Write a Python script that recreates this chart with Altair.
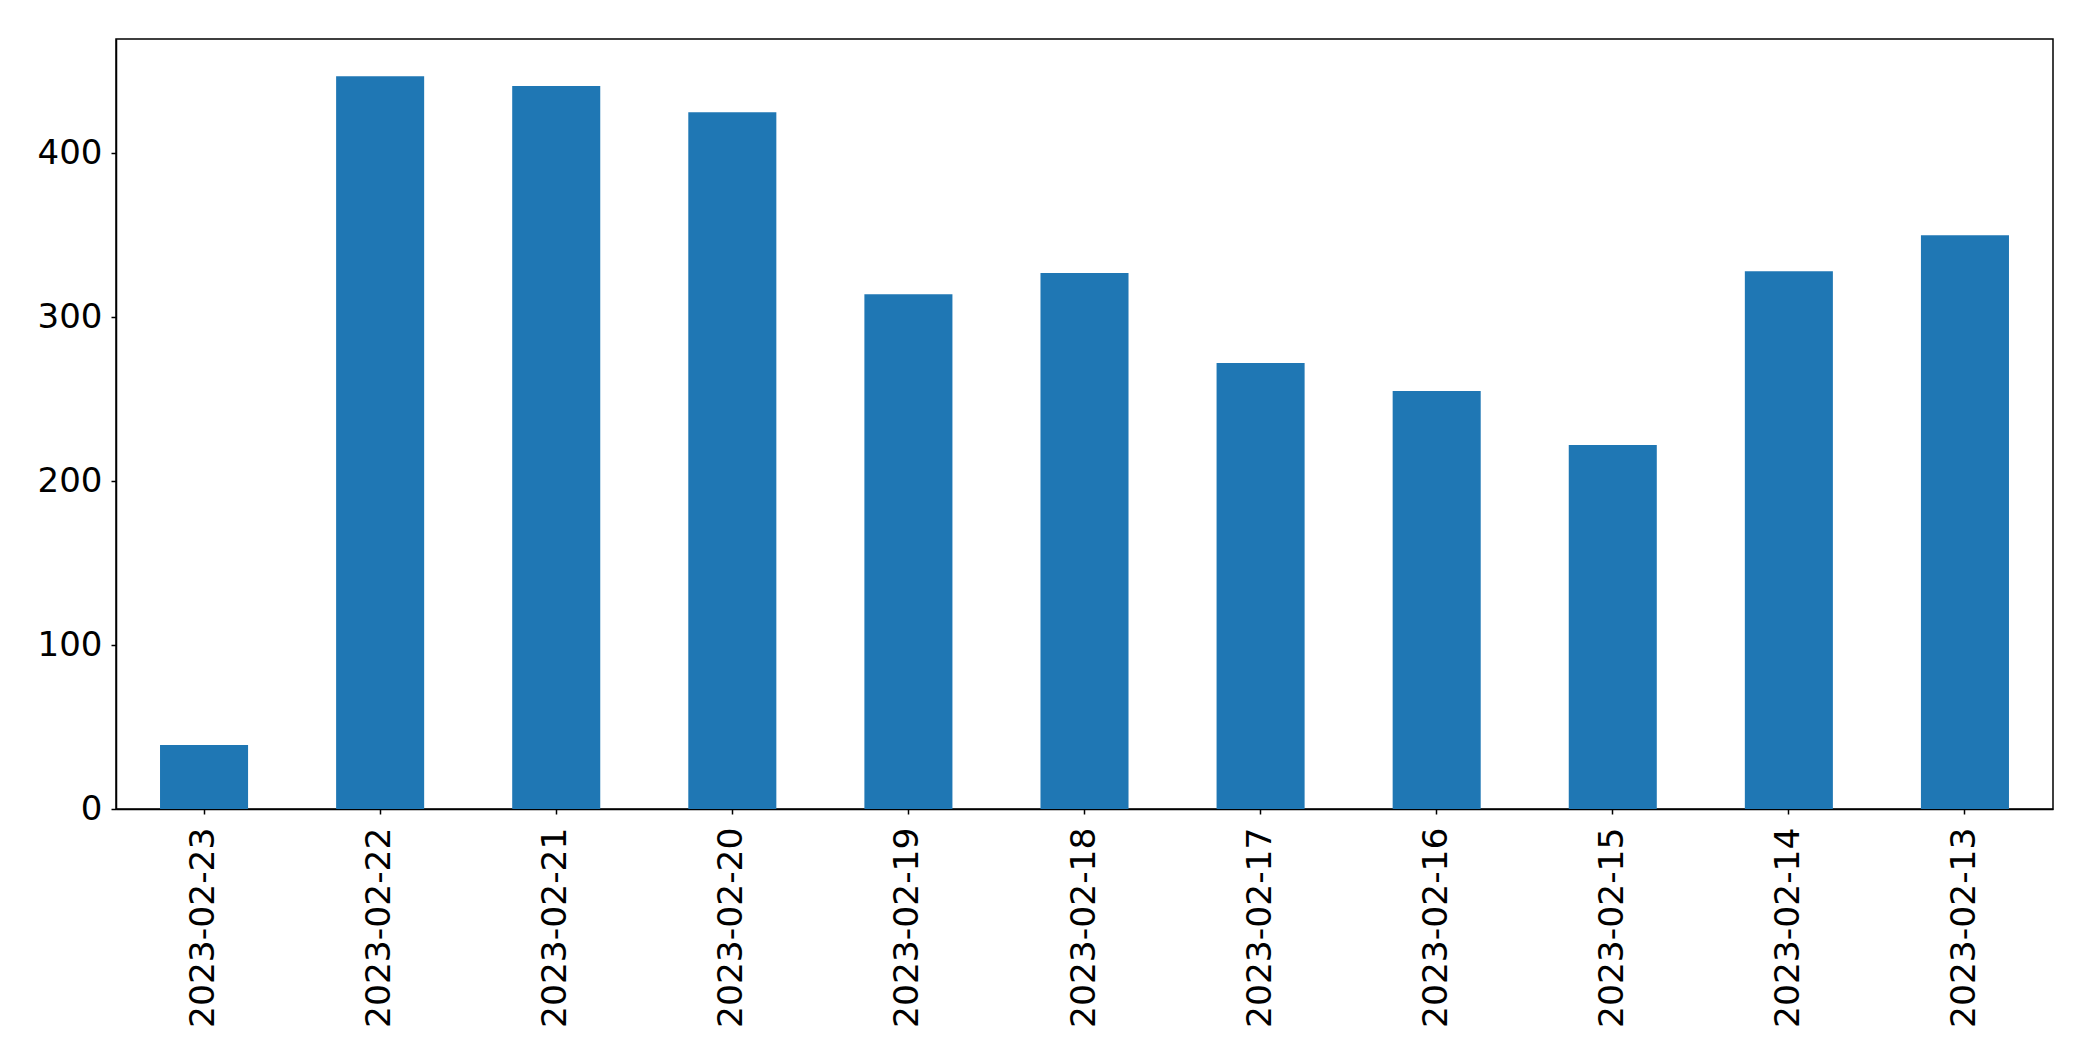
import altair as alt
import pandas as pd

dates = ["2023-02-23", "2023-02-22", "2023-02-21", "2023-02-20", "2023-02-19",
         "2023-02-18", "2023-02-17", "2023-02-16", "2023-02-15", "2023-02-14",
         "2023-02-13"]
counts = [39, 447, 441, 425, 314, 327, 272, 255, 222, 328, 350]
y_ticks = [0, 100, 200, 300, 400]

df = pd.DataFrame({"date": dates, "count": counts})

font = "DejaVu Sans"

chart = alt.Chart(df).mark_bar(color="#1f77b4").encode(
    x=alt.X("date:N", sort=None, title=None,
            scale=alt.Scale(paddingInner=0.5, paddingOuter=0.25),
            axis=alt.Axis(labelAngle=270, labelAlign="right", labelBaseline="middle",
                          labelFontSize=34.5, labelFont=font, labelColor="black",
                          labelPadding=13, tickSize=5, tickColor="black",
                          domainColor="black", domainWidth=1.5, tickWidth=1.5,
                          labelOverlap=False, labelLimit=1000)),
    y=alt.Y("count:Q", title=None,
            scale=alt.Scale(domain=[0, 469.7], nice=False, zero=True),
            axis=alt.Axis(values=y_ticks, grid=False, labelFontSize=34, labelFont=font,
                          labelColor="black", labelPadding=9, tickSize=5,
                          tickColor="black", domainColor="black", domainWidth=1.5,
                          tickWidth=1.5, labelLimit=1000)),
).properties(
    width=1937,
    height=770,
    background="white",
    autosize=alt.AutoSizeParams(type="none"),
    padding={"left": 108, "top": 31, "right": 30, "bottom": 240},
).configure_view(
    stroke="black", strokeWidth=1.5
)

chart.save("out.html", embed_options={"renderer": "svg", "actions": False})
